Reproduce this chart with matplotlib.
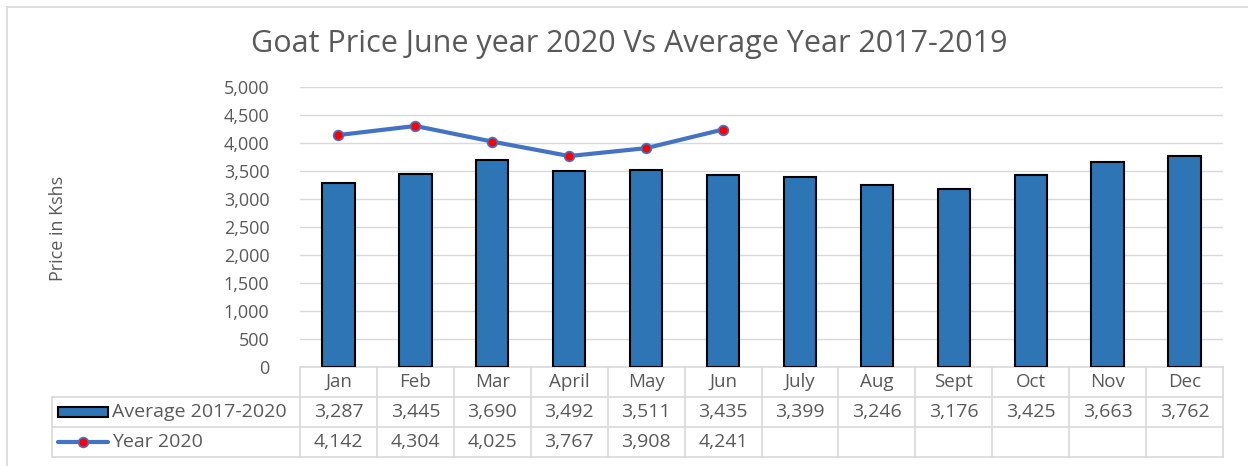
import matplotlib.pyplot as plt
from matplotlib.lines import Line2D
from matplotlib.patches import Rectangle

months = ["Jan", "Feb", "Mar", "April", "May", "Jun", "July", "Aug", "Sept", "Oct", "Nov", "Dec"]
avg_2017_2019 = [3287, 3445, 3690, 3492, 3511, 3435, 3399, 3246, 3176, 3425, 3663, 3762]
year_2020 = [4142, 4304, 4025, 3767, 3908, 4241]
series_names = ["Average 2017-2020", "Year 2020"]
title = "Goat Price June year 2020 Vs Average Year 2017-2019"

W, H = 1248, 466
TXT = "#595959"
GRID = "#D9D9D9"
BAR = "#2E75B6"
LINE = "#4472C4"

plt.rcParams['font.family'] = ['Open Sans', 'DejaVu Sans']

fig = plt.figure(figsize=(W / 100, H / 100), dpi=100)
left, right, top, bottom = 300, 1223, 87, 367
ax = fig.add_axes([left / W, 1 - bottom / H, (right - left) / W, (bottom - top) / H])

x = list(range(len(months)))
ax.bar(x, avg_2017_2019, width=0.42, color=BAR, edgecolor="black", linewidth=1.5, zorder=3)
ax.plot(x[:len(year_2020)], year_2020, color=LINE, lw=3, marker="o", ms=7,
        mfc="red", mec=LINE, mew=1.2, zorder=4, solid_capstyle="round")

ax.set_xlim(-0.5, len(months) - 0.5)
ax.set_ylim(0, 5000)
ax.set_yticks(range(0, 5001, 500))
ax.set_yticklabels([f"{v:,}" for v in range(0, 5001, 500)], color=TXT, fontsize=13)
ax.set_xticks([])
ax.tick_params(axis="y", length=0, pad=22)
ax.grid(axis="y", color=GRID, lw=1, zorder=0)
for s in ax.spines.values():
    s.set_visible(False)
fig.text(58 / W, 1 - 228 / H, "Price in Kshs", rotation=90, ha="center", va="center",
         color=TXT, fontsize=13)

fig.text(629 / W, 1 - 44 / H, title, ha="center", va="center", fontsize=22, color=TXT)

# data table below the plot, in axes units
pw = right - left
ph = bottom - top
row_h = 30 / ph
legend_left = (52 - left) / pw
tbl = dict(color=GRID, lw=1.2, clip_on=False, transform=ax.transAxes)
ncol = len(months)
FS = 14
ax.add_line(Line2D([0, 1], [0, 0], **tbl))
for r in range(1, 4):
    ax.add_line(Line2D([legend_left, 1], [-r * row_h, -r * row_h], **tbl))
for i in range(ncol + 1):
    xf = i / ncol
    ax.add_line(Line2D([xf, xf], [0, -3 * row_h], **tbl))
ax.add_line(Line2D([legend_left, legend_left], [-row_h, -3 * row_h], **tbl))

for i, m in enumerate(months):
    xc = (i + 0.5) / ncol
    ax.text(xc, -0.5 * row_h, m, transform=ax.transAxes, ha="center", va="center",
            fontsize=13.5, color=TXT)
    ax.text(xc, -1.5 * row_h, f"{avg_2017_2019[i]:,}", transform=ax.transAxes,
            ha="center", va="center", fontsize=FS, color=TXT)
    if i < len(year_2020):
        ax.text(xc, -2.5 * row_h, f"{year_2020[i]:,}", transform=ax.transAxes,
                ha="center", va="center", fontsize=FS, color=TXT)

# legend keys in the table
kx0 = (58 - left) / pw
kx1 = (108 - left) / pw
ax.add_patch(Rectangle((kx0, -1.5 * row_h - 5 / ph), kx1 - kx0, 10 / ph, transform=ax.transAxes,
                       facecolor=BAR, edgecolor="black", lw=1.5, clip_on=False))
ax.add_line(Line2D([kx0, kx1], [-2.5 * row_h, -2.5 * row_h], color=LINE, lw=3,
                   transform=ax.transAxes, clip_on=False, solid_capstyle="round"))
ax.add_line(Line2D([(kx0 + kx1) / 2], [-2.5 * row_h], marker="o", ms=7, mfc="red", mec=LINE,
                   mew=1.2, transform=ax.transAxes, clip_on=False))
tx = (112 - left) / pw
ax.text(tx, -1.5 * row_h, series_names[0], transform=ax.transAxes, ha="left", va="center",
        fontsize=FS, color=TXT)
ax.text(tx, -2.5 * row_h, series_names[1], transform=ax.transAxes, ha="left", va="center",
        fontsize=FS, color=TXT)

# chart area border
fig.add_artist(Line2D([7 / W, 7 / W], [0, 1 - 7 / H], color=GRID, lw=1.2))
fig.add_artist(Line2D([7 / W, 1], [1 - 7 / H, 1 - 7 / H], color=GRID, lw=1.2))

fig.savefig("out.png", dpi=100)
